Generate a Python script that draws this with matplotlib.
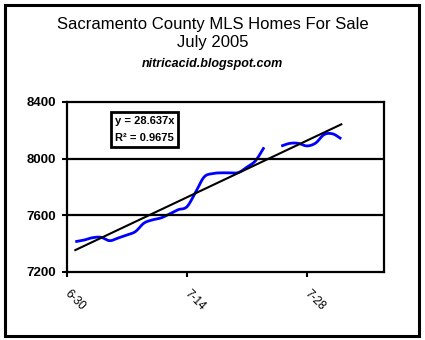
import numpy as np
import matplotlib
matplotlib.use('Agg')
import matplotlib.pyplot as plt
from matplotlib.patches import Rectangle
from matplotlib.transforms import ScaledTranslation

plt.rcParams['font.family'] = ['Liberation Sans', 'DejaVu Sans']

# days after 6-30, homes for sale
days_a = [1, 2, 3, 4, 5, 6, 7, 8, 9, 10, 11, 12, 13, 14, 15, 16, 17, 18, 19, 20, 21, 22, 23]
homes_a = [7414, 7425, 7442, 7445, 7421, 7440, 7461, 7485, 7545, 7568, 7582, 7610,
           7640, 7660, 7760, 7870, 7895, 7900, 7900, 7902, 7940, 7985, 8080]
days_b = [25, 26, 27, 28, 29, 30, 31, 32]
homes_b = [8089, 8108, 8108, 8090, 8110, 8170, 8175, 8140]

tick_days = [0, 14, 28]
tick_labels = ['6-30', '7-14', '7-28']

TREND_SLOPE = 28.637
TREND_INTERCEPT = 7326
R2 = 0.9675


def smooth(x, y, n=12):
    # Catmull-Rom style curve like Excel's smoothed line
    x = np.asarray(x, float); y = np.asarray(y, float)
    px = np.concatenate([[2*x[0]-x[1]], x, [2*x[-1]-x[-2]]])
    py = np.concatenate([[2*y[0]-y[1]], y, [2*y[-1]-y[-2]]])
    xs, ys = [], []
    t = np.linspace(0, 1, n, endpoint=False)
    for i in range(1, len(px)-2):
        for p, out in ((px, xs), (py, ys)):
            p0, p1, p2, p3 = p[i-1], p[i], p[i+1], p[i+2]
            out.extend(0.5*((2*p1) + (-p0+p2)*t + (2*p0-5*p1+4*p2-p3)*t**2
                            + (-p0+3*p1-3*p2+p3)*t**3))
    xs.append(x[-1]); ys.append(y[-1])
    return xs, ys


fig = plt.figure(figsize=(4.25, 3.4), dpi=100)
fig.patches.append(Rectangle((0.011, 0.013), 0.976, 0.972, transform=fig.transFigure,
                             fill=False, edgecolor='black', linewidth=2.2))

ax = fig.add_axes([0.157, 0.2, 0.747, 0.5])

for d, h in ((days_a, homes_a), (days_b, homes_b)):
    sx, sy = smooth(d, h)
    ax.plot(sx, sy, color='#0000ff', linewidth=2.0, solid_capstyle='butt')

all_days = days_a + days_b
tx = np.array([min(all_days), max(all_days)])
ax.plot(tx, TREND_SLOPE * tx + TREND_INTERCEPT, color='black', linewidth=1.5)

ax.set_xlim(0, 37)
ax.set_ylim(7200, 8400)
ax.set_yticks([7200, 7600, 8000, 8400])
ax.set_yticklabels(['7200', '7600', '8000', '8400'], fontsize=9.5, fontweight='bold')
ax.set_xticks(tick_days)
ax.set_xticklabels(tick_labels, rotation=-45, ha='left', va='center', fontsize=8.5,
                   rotation_mode='anchor')
shift = ScaledTranslation(9/100, 0, fig.dpi_scale_trans)
for lab in ax.get_xticklabels():
    lab.set_transform(lab.get_transform() + shift)
ax.tick_params(axis='x', length=3.5, width=1.5, pad=11)
ax.tick_params(axis='y', length=3.5, width=1.5, pad=4)
for y in [7600, 8000]:
    ax.axhline(y, color='black', linewidth=1.6)
for s in ax.spines.values():
    s.set_linewidth(1.6)

fig.text(0.5, 0.928, 'Sacramento County MLS Homes For Sale', ha='center', va='center', fontsize=12)
fig.text(0.5, 0.875, 'July 2005', ha='center', va='center', fontsize=12)
fig.text(0.5, 0.813, 'nitricacid.blogspot.com', ha='center', va='center', fontsize=9,
         fontweight='bold', style='italic')

fig.text(0.340, 0.619, f'y = {TREND_SLOPE}x\nR² = {R2}', ha='center', va='center',
         fontsize=8, fontweight='bold', linespacing=1.9,
         bbox=dict(boxstyle='square,pad=0.35', facecolor='white', edgecolor='black', linewidth=2))

fig.savefig('out.png', dpi=100)
